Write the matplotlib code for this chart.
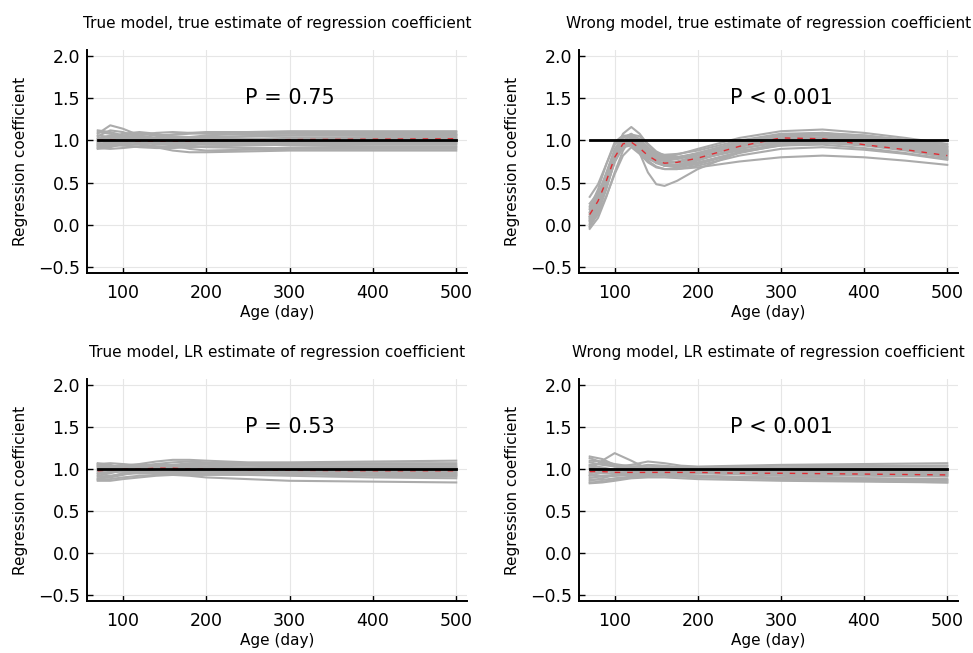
import matplotlib
matplotlib.use("Agg")
import matplotlib.pyplot as plt

# knot ages (days) for the simulated coefficient curves
age_flat = [70, 85, 100, 120, 140, 160, 180, 200, 250, 300, 400, 500]
age_wave = [70, 80, 90, 100, 110, 120, 130, 140, 150, 160, 175, 200, 250, 300, 350, 400, 450, 500]

# true model, true estimate
curves_tt = [
    [1.05, 1.12, 1.10, 1.04, 1.00, 0.98, 0.98, 0.99, 1.01, 1.02, 1.03, 1.03],
    [0.95, 0.97, 1.00, 1.04, 1.06, 1.07, 1.08, 1.09, 1.10, 1.11, 1.11, 1.11],
    [0.92, 0.93, 0.95, 0.95, 0.92, 0.88, 0.86, 0.86, 0.87, 0.88, 0.88, 0.88],
    [1.10, 1.08, 1.05, 1.02, 1.00, 0.99, 1.00, 1.01, 1.02, 1.03, 1.04, 1.04],
    [1.00, 1.03, 1.06, 1.08, 1.07, 1.05, 1.04, 1.04, 1.05, 1.06, 1.07, 1.07],
    [0.97, 0.96, 0.94, 0.92, 0.91, 0.91, 0.92, 0.93, 0.94, 0.95, 0.95, 0.95],
    [1.02, 1.06, 1.02, 0.96, 0.93, 0.93, 0.94, 0.96, 0.98, 0.99, 1.00, 1.00],
    [0.90, 0.92, 0.96, 1.00, 1.02, 1.02, 1.02, 1.01, 1.00, 0.99, 0.98, 0.98],
    [1.12, 1.10, 1.06, 1.02, 1.01, 1.02, 1.04, 1.06, 1.08, 1.09, 1.10, 1.10],
    [1.00, 0.99, 0.98, 0.98, 0.97, 0.95, 0.93, 0.92, 0.91, 0.91, 0.92, 0.92],
    [0.94, 1.00, 1.03, 1.02, 0.99, 0.97, 0.96, 0.96, 0.97, 0.97, 0.97, 0.97],
    [1.06, 1.04, 1.00, 0.97, 0.97, 0.99, 1.01, 1.03, 1.05, 1.06, 1.06, 1.06],
    [0.98, 1.02, 1.04, 1.06, 1.09, 1.10, 1.09, 1.08, 1.07, 1.06, 1.06, 1.06],
    [0.93, 0.95, 0.97, 0.98, 0.97, 0.94, 0.90, 0.88, 0.89, 0.90, 0.90, 0.90],
    [1.08, 1.18, 1.14, 1.06, 1.02, 1.00, 0.99, 0.99, 1.00, 1.01, 1.02, 1.02],
    [1.03, 1.01, 1.00, 1.01, 1.03, 1.04, 1.04, 1.03, 1.02, 1.01, 1.01, 1.01],
    [0.96, 0.94, 0.94, 0.96, 0.98, 0.98, 0.97, 0.97, 0.96, 0.94, 0.93, 0.93],
    [1.01, 0.98, 0.96, 0.99, 1.04, 1.07, 1.09, 1.10, 1.10, 1.09, 1.08, 1.08],
    [0.99, 1.04, 1.08, 1.10, 1.08, 1.04, 1.01, 0.99, 0.98, 0.98, 0.99, 0.99],
    [0.91, 0.90, 0.91, 0.93, 0.95, 0.96, 0.96, 0.95, 0.95, 0.96, 0.96, 0.96],
]
mean_tt = [1.00, 1.01, 1.00, 0.99, 0.99, 0.99, 0.99, 1.00, 1.00, 1.01, 1.015, 1.02]

# wrong model, true estimate
curves_wt = [
    [0.10, 0.30, 0.55, 0.82, 0.97, 0.95, 0.86, 0.78, 0.74, 0.73, 0.75, 0.82, 0.95, 1.02, 1.02, 0.97, 0.90, 0.82],
    [0.33, 0.48, 0.72, 0.95, 1.05, 1.05, 0.98, 0.90, 0.85, 0.83, 0.84, 0.88, 1.00, 1.08, 1.09, 1.04, 0.98, 0.92],
    [0.05, 0.25, 0.52, 0.80, 0.97, 1.00, 0.85, 0.62, 0.48, 0.46, 0.52, 0.66, 0.86, 0.97, 1.00, 0.97, 0.91, 0.85],
    [-0.02, 0.18, 0.48, 0.85, 1.08, 1.16, 1.08, 0.95, 0.85, 0.80, 0.80, 0.85, 0.98, 1.06, 1.08, 1.04, 0.98, 0.92],
    [0.00, 0.12, 0.34, 0.60, 0.82, 0.92, 0.84, 0.74, 0.68, 0.66, 0.66, 0.68, 0.75, 0.80, 0.82, 0.80, 0.76, 0.71],
    [0.15, 0.35, 0.60, 0.86, 1.00, 1.02, 0.94, 0.84, 0.78, 0.76, 0.78, 0.85, 0.98, 1.06, 1.07, 1.03, 0.97, 0.90],
    [0.08, 0.22, 0.45, 0.74, 0.92, 0.97, 0.91, 0.82, 0.74, 0.70, 0.71, 0.77, 0.90, 0.98, 1.00, 0.96, 0.90, 0.83],
    [-0.05, 0.08, 0.33, 0.62, 0.88, 1.04, 1.00, 0.88, 0.76, 0.70, 0.68, 0.72, 0.85, 0.95, 0.98, 0.95, 0.89, 0.80],
    [0.20, 0.42, 0.72, 0.98, 1.06, 1.04, 0.96, 0.88, 0.83, 0.81, 0.83, 0.90, 1.03, 1.11, 1.13, 1.09, 1.03, 0.96],
    [0.12, 0.28, 0.50, 0.76, 0.92, 0.94, 0.86, 0.76, 0.69, 0.66, 0.66, 0.70, 0.82, 0.90, 0.92, 0.89, 0.84, 0.77],
    [0.02, 0.20, 0.50, 0.82, 1.00, 1.06, 1.02, 0.92, 0.82, 0.76, 0.74, 0.78, 0.90, 0.99, 1.03, 1.01, 0.96, 0.88],
    [0.25, 0.38, 0.58, 0.80, 0.94, 0.98, 0.93, 0.86, 0.81, 0.79, 0.80, 0.84, 0.94, 1.00, 1.01, 0.97, 0.91, 0.84],
    [0.06, 0.24, 0.52, 0.84, 1.03, 1.08, 1.00, 0.87, 0.77, 0.72, 0.71, 0.76, 0.92, 1.04, 1.08, 1.06, 1.01, 0.95],
    [0.10, 0.26, 0.50, 0.78, 0.95, 1.00, 0.95, 0.86, 0.79, 0.75, 0.74, 0.78, 0.88, 0.94, 0.95, 0.91, 0.85, 0.78],
    [-0.03, 0.14, 0.42, 0.76, 0.98, 1.07, 1.05, 0.96, 0.87, 0.82, 0.80, 0.83, 0.95, 1.04, 1.06, 1.02, 0.95, 0.87],
    [0.18, 0.32, 0.55, 0.80, 0.93, 0.95, 0.88, 0.80, 0.75, 0.73, 0.74, 0.80, 0.93, 1.01, 1.03, 1.00, 0.94, 0.87],
    [0.04, 0.18, 0.44, 0.75, 0.95, 1.01, 0.95, 0.84, 0.75, 0.70, 0.69, 0.73, 0.86, 0.96, 1.00, 0.98, 0.93, 0.86],
    [0.14, 0.34, 0.62, 0.90, 1.05, 1.07, 0.98, 0.88, 0.82, 0.79, 0.79, 0.84, 0.97, 1.06, 1.09, 1.06, 1.00, 0.93],
    [0.08, 0.22, 0.48, 0.78, 0.96, 0.99, 0.90, 0.80, 0.73, 0.70, 0.70, 0.74, 0.86, 0.94, 0.97, 0.94, 0.88, 0.80],
    [0.22, 0.36, 0.60, 0.85, 0.99, 1.01, 0.93, 0.84, 0.79, 0.77, 0.78, 0.83, 0.95, 1.02, 1.04, 1.01, 0.96, 0.89],
]
mean_wt = [0.12, 0.28, 0.52, 0.80, 0.96, 0.98, 0.91, 0.82, 0.76, 0.73, 0.74, 0.79, 0.93, 1.03, 1.02, 0.95, 0.89, 0.82]

# true model, LR estimate
curves_tl = [
    [1.05, 1.04, 1.03, 1.04, 1.06, 1.08, 1.09, 1.08, 1.06, 1.05, 1.05, 1.05],
    [0.87, 0.88, 0.90, 0.92, 0.93, 0.93, 0.93, 0.93, 0.93, 0.92, 0.90, 0.89],
    [0.98, 1.01, 1.04, 1.06, 1.09, 1.11, 1.11, 1.10, 1.08, 1.08, 1.09, 1.10],
    [1.07, 1.05, 1.01, 0.97, 0.95, 0.94, 0.94, 0.95, 0.95, 0.94, 0.92, 0.91],
    [0.92, 0.95, 0.99, 1.01, 1.01, 1.00, 0.98, 0.97, 0.96, 0.95, 0.94, 0.93],
    [1.00, 1.00, 1.01, 1.02, 1.03, 1.04, 1.05, 1.05, 1.04, 1.03, 1.03, 1.03],
    [0.89, 0.90, 0.93, 0.97, 1.00, 1.02, 1.03, 1.02, 1.00, 0.98, 0.95, 0.94],
    [1.03, 1.02, 1.00, 0.98, 0.97, 0.96, 0.96, 0.97, 0.98, 0.98, 0.98, 0.98],
    [0.95, 0.96, 0.97, 0.99, 1.02, 1.05, 1.07, 1.07, 1.05, 1.03, 1.01, 1.00],
    [1.06, 1.07, 1.06, 1.04, 1.02, 1.00, 0.99, 0.99, 1.00, 1.01, 1.02, 1.02],
    [0.86, 0.86, 0.88, 0.90, 0.92, 0.93, 0.92, 0.90, 0.88, 0.86, 0.85, 0.84],
    [0.97, 0.99, 1.02, 1.04, 1.05, 1.05, 1.04, 1.03, 1.02, 1.01, 1.00, 1.00],
    [1.02, 1.00, 0.97, 0.95, 0.95, 0.96, 0.97, 0.98, 0.99, 0.99, 0.97, 0.96],
    [0.94, 0.97, 1.01, 1.04, 1.05, 1.04, 1.02, 1.00, 0.98, 0.97, 0.97, 0.97],
    [1.04, 1.02, 1.01, 1.01, 1.02, 1.04, 1.06, 1.07, 1.07, 1.07, 1.07, 1.07],
    [0.91, 0.92, 0.94, 0.95, 0.96, 0.97, 0.98, 0.98, 0.97, 0.95, 0.93, 0.92],
    [1.00, 1.03, 1.05, 1.05, 1.03, 1.01, 0.99, 0.98, 0.97, 0.96, 0.95, 0.95],
    [0.88, 0.91, 0.95, 0.99, 1.01, 1.01, 1.00, 0.99, 0.99, 0.99, 1.00, 1.01],
]
mean_tl = [0.98, 0.99, 1.00, 1.00, 1.01, 1.01, 1.00, 1.00, 0.99, 0.985, 0.98, 0.98]

# wrong model, LR estimate
curves_wl = [
    [1.13, 1.08, 1.03, 1.00, 0.99, 0.99, 0.98, 0.98, 0.97, 0.96, 0.95, 0.94],
    [1.00, 1.10, 1.19, 1.10, 1.00, 0.98, 0.98, 0.98, 0.99, 0.99, 0.99, 0.99],
    [0.83, 0.84, 0.86, 0.89, 0.90, 0.90, 0.89, 0.88, 0.87, 0.86, 0.85, 0.84],
    [1.08, 1.05, 1.03, 1.05, 1.09, 1.07, 1.04, 1.03, 1.04, 1.05, 1.06, 1.07],
    [0.95, 0.97, 0.99, 1.02, 1.05, 1.04, 1.02, 1.01, 1.01, 1.02, 1.03, 1.04],
    [0.90, 0.91, 0.92, 0.93, 0.93, 0.93, 0.92, 0.92, 0.91, 0.90, 0.89, 0.88],
    [1.02, 1.00, 0.97, 0.94, 0.93, 0.93, 0.94, 0.95, 0.95, 0.95, 0.95, 0.95],
    [0.86, 0.89, 0.93, 0.97, 0.99, 0.99, 0.98, 0.97, 0.96, 0.95, 0.94, 0.93],
    [1.15, 1.12, 1.05, 0.99, 0.96, 0.95, 0.95, 0.96, 0.97, 0.97, 0.96, 0.96],
    [0.93, 0.92, 0.92, 0.94, 0.96, 0.97, 0.97, 0.96, 0.94, 0.92, 0.89, 0.87],
    [1.05, 1.06, 1.04, 1.01, 0.98, 0.96, 0.95, 0.95, 0.94, 0.93, 0.92, 0.91],
    [0.97, 0.95, 0.94, 0.97, 1.00, 1.02, 1.02, 1.01, 1.00, 0.99, 0.98, 0.98],
    [0.88, 0.87, 0.89, 0.91, 0.92, 0.92, 0.91, 0.90, 0.89, 0.88, 0.87, 0.86],
    [1.10, 1.09, 1.06, 1.03, 1.02, 1.01, 1.01, 1.02, 1.03, 1.04, 1.04, 1.04],
    [0.92, 0.96, 1.00, 1.03, 1.04, 1.03, 1.02, 1.00, 0.98, 0.96, 0.94, 0.92],
    [1.00, 0.98, 0.96, 0.95, 0.95, 0.96, 0.97, 0.97, 0.97, 0.97, 0.97, 0.97],
    [0.84, 0.85, 0.87, 0.90, 0.92, 0.93, 0.93, 0.92, 0.90, 0.88, 0.86, 0.84],
    [1.04, 1.02, 0.99, 0.97, 0.98, 1.00, 1.01, 1.01, 1.01, 1.01, 1.01, 1.01],
]
mean_wl = [0.97, 0.97, 0.96, 0.96, 0.96, 0.96, 0.96, 0.96, 0.95, 0.95, 0.94, 0.93]

titles = [
    "True model, true estimate of regression coefficient",
    "Wrong model, true estimate of regression coefficient",
    "True model, LR estimate of regression coefficient",
    "Wrong model, LR estimate of regression coefficient",
]
p_labels = ["P = 0.75", "P < 0.001", "P = 0.53", "P < 0.001"]
true_coef = 1.0

W, H = 973, 653
fig = plt.figure(figsize=(W / 100, H / 100), dpi=100)

# axes boxes in pixels: left, top, right, bottom
boxes = [(87, 50, 467, 273), (579, 50, 958, 273),
         (87, 379, 467, 601), (579, 379, 958, 601)]
panels = [
    (age_flat, curves_tt, mean_tt),
    (age_wave, curves_wt, mean_wt),
    (age_flat, curves_tl, mean_tl),
    (age_flat, curves_wl, mean_wl),
]

for i, (l, t, r, b) in enumerate(boxes):
    ax = fig.add_axes([l / W, 1 - b / H, (r - l) / W, (b - t) / H])
    x, curves, mean = panels[i]
    for c in curves:
        ax.plot(x, c, color="#ababab", lw=1.5, zorder=2, solid_joinstyle="round")
    # thin broken red mean, mostly lost among the grey curves
    ax.plot(x, mean, color="#e8141c", lw=1.0, dashes=(4, 5), alpha=0.85, zorder=3)
    ax.plot([x[0], x[-1]], [true_coef, true_coef], color="black", lw=2.0, zorder=4)

    ax.text(300, 1.5, p_labels[i], fontsize=15, ha="center", va="center")
    ax.set_title(titles[i], fontsize=11, pad=16)
    ax.set_xlabel("Age (day)", fontsize=11, labelpad=2)
    ax.set_ylabel("Regression coefficient", fontsize=11, labelpad=7)

    ax.set_xlim(57.1, 512.9)
    ax.set_ylim(-0.575, 2.075)
    ax.set_xticks([100, 200, 300, 400, 500])
    ax.set_yticks([-0.5, 0.0, 0.5, 1.0, 1.5, 2.0])
    ax.set_yticklabels(["\u22120.5", "0.0", "0.5", "1.0", "1.5", "2.0"])
    ax.tick_params(direction="in", length=4, width=1, labelsize=12.5)
    ax.tick_params(axis="x", pad=8)
    ax.tick_params(axis="y", pad=5)
    ax.grid(True, color="#e6e6e6", lw=0.8, zorder=0)
    ax.set_axisbelow(True)
    for s in ["top", "right"]:
        ax.spines[s].set_visible(False)
    for s in ["left", "bottom"]:
        ax.spines[s].set_linewidth(1.4)

fig.savefig("out.png", dpi=100)
